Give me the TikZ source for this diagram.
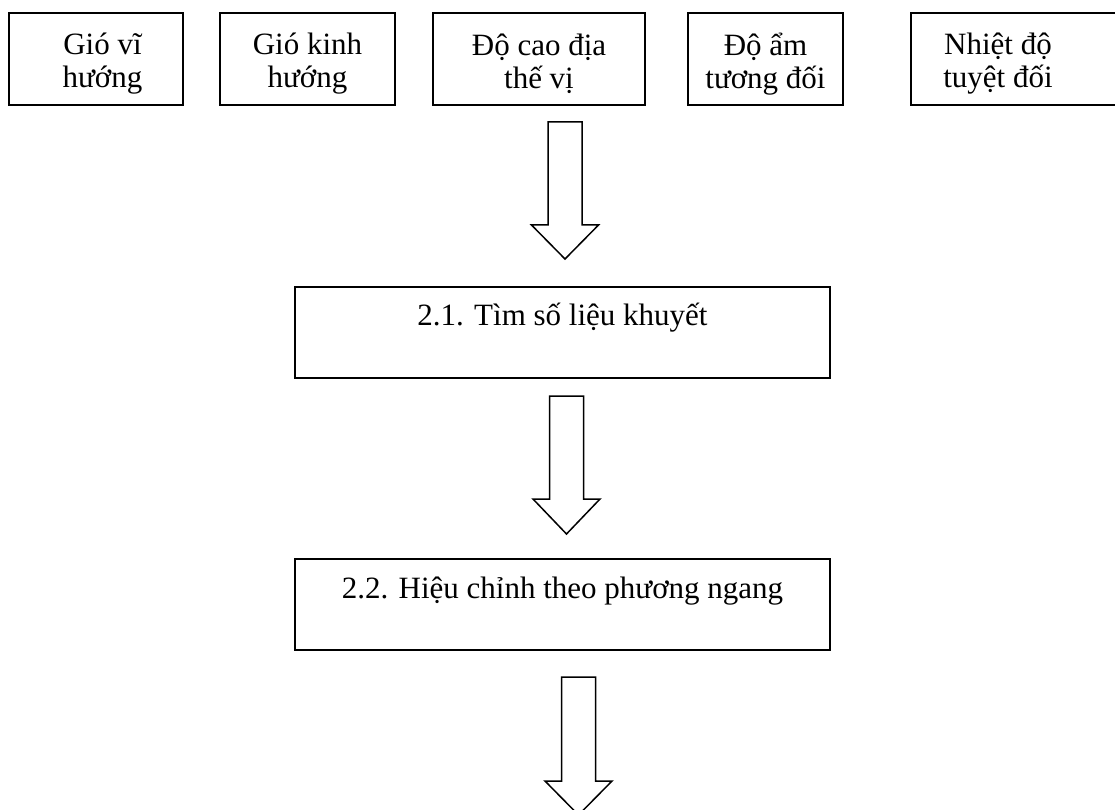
\documentclass[tikz,border=0pt]{standalone}
\usepackage{fontspec}
\setmainfont{Liberation Serif}
\begin{document}
\begin{tikzpicture}[x=1pt,y=-1pt,
  lw/.style={line width=1.5pt},
  topbox/.style={lw,draw,minimum height=92pt,inner sep=0pt},
  toptext/.style={inner sep=0pt,align=center,font=\fontsize{31}{33}\selectfont},
  mainbox/.style={lw,draw,minimum width=535pt,minimum height=91pt,inner sep=0pt},
  boxtext/.style={anchor=base,inner sep=0pt,font=\fontsize{31}{35}\selectfont},
  blockarrow/.style={lw,draw,line join=miter,fill=white}]
\useasboundingbox (0,0) rectangle (1115,810);
% top boxes
\node[topbox,minimum width=174pt] (n1) at (96,59) {};
\node[topbox,minimum width=175pt] (n2) at (307.5,59) {};
\node[topbox,minimum width=212pt] (n3) at (539,59) {};
\node[topbox,minimum width=155pt] (n4) at (765.5,59) {};
\node[topbox,minimum width=219pt] (n5) at (1020.5,59) {};
\node[toptext] (l1) at (102.5,64) {Gió vĩ\\hướng};
\node[toptext] (l2) at (307.5,64) {Gió kinh\\hướng};
\node[toptext] (l3) at (539,64) {Độ cao địa\\thế vị};
\node[toptext] (l4) at (765.5,64) {Độ ẩm\\tương đối};
\node[toptext] (l5) at (998,64) {Nhiệt độ\\tuyệt đối};
% main boxes
\node[mainbox] (b1) at (562.5,332.5) {};
\node[boxtext] (t1) at (562.5,325) {2.1. Tìm số liệu khuyết};
\node[mainbox] (b2) at (562.5,604.5) {};
\node[boxtext] (t2) at (562.5,598) {2.2. Hiệu chỉnh theo phương ngang};
% block arrows
\newcommand\blkarr[4]{%
  \draw[blockarrow] (#1-17,#2) -- (#1+17,#2) -- (#1+17,#3) -- (#1+33.5,#3)
    -- (#1,#4) -- (#1-33.5,#3) -- (#1-17,#3) -- cycle;}
\blkarr{565}{122}{225}{259}
\blkarr{566.5}{396}{499}{534}
\blkarr{578.5}{677}{781}{815}
\end{tikzpicture}
\end{document}
